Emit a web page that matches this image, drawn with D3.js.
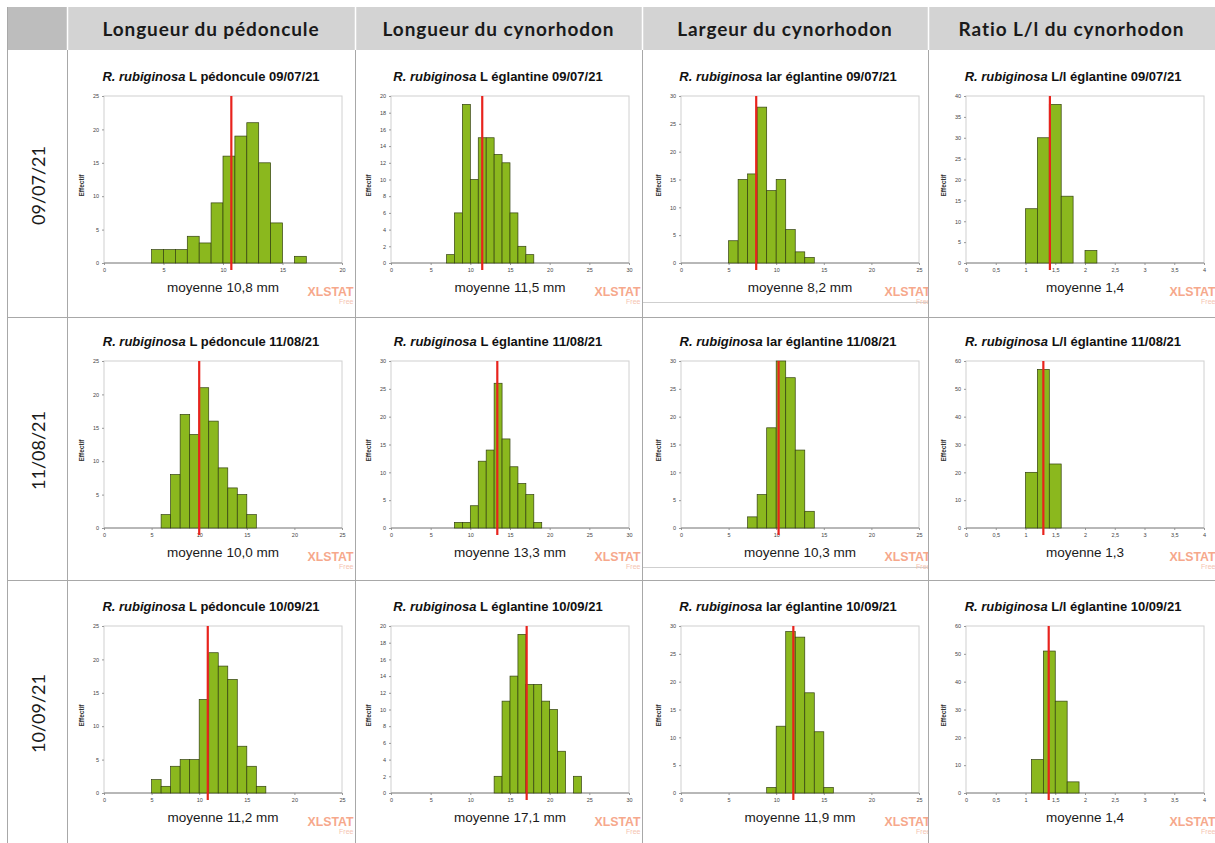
<!DOCTYPE html>
<html>
<head>
<meta charset="utf-8">
<script src="https://cdn.jsdelivr.net/npm/d3@7"></script>
<style>
  body { margin: 0; background: #fff; }
  svg { display: block; }
</style>
</head>
<body>
<svg id="chart" width="1215" height="843"></svg>
<script>
// table headers
var columns = ["Longueur du pédoncule", "Longueur du cynorhodon", "Largeur du cynorhodon", "Ratio L/l du cynorhodon"];
var dates = ["09/07/21", "11/08/21", "10/09/21"];
var measures = ["L pédoncule", "L églantine", "lar églantine", "L/l églantine"];
var units = [" mm", " mm", " mm", ""];

// histogram bins: [row][col]
var binWidth = [1, 1, 1, 0.2];
var binStart = [
  [4, 7, 5, 1.0],
  [6, 8, 7, 1.0],
  [5, 13, 9, 1.1]
];
var counts = [
  [[2, 2, 2, 4, 3, 9, 16, 19, 21, 15, 6, 0, 1],
   [1, 6, 19, 10, 15, 15, 13, 12, 6, 2, 1],
   [4, 15, 16, 28, 13, 15, 6, 2, 1],
   [13, 30, 38, 16, 0, 3]],
  [[2, 8, 17, 14, 21, 16, 9, 6, 5, 2],
   [1, 1, 4, 12, 14, 26, 16, 11, 8, 6, 1],
   [2, 6, 18, 30, 27, 14, 3],
   [20, 57, 23]],
  [[2, 1, 4, 5, 5, 14, 21, 19, 17, 7, 4, 1],
   [2, 11, 14, 19, 13, 13, 11, 10, 5, 0, 2],
   [1, 12, 29, 28, 18, 11, 1],
   [12, 51, 33, 4, 0]]
];
// red line position (as drawn) and the printed mean
var meanLine = [
  [10.7, 11.5, 7.9, 1.41],
  [10.0, 13.4, 10.25, 1.30],
  [10.9, 17.1, 11.8, 1.39]
];
var meanText = [
  ["10,8", "11,5", "8,2", "1,4"],
  ["10,0", "13,3", "10,3", "1,3"],
  ["11,2", "17,1", "11,9", "1,4"]
];
var xMax = [[20, 30, 25, 4], [25, 30, 25, 4], [25, 30, 25, 4]];
var xStep = [5, 5, 5, 0.5];
var yMax = [[25, 20, 30, 40], [25, 30, 30, 60], [25, 20, 30, 60]];
var yStep = [[5, 2, 5, 5], [5, 5, 5, 10], [5, 2, 5, 10]];

var svg = d3.select("#chart");
var fr = d3.formatLocale({decimal: ",", thousands: " ", grouping: [3], currency: ["", " €"]});
var fmt = fr.format("~g");

// table geometry
var colX = [7, 67, 355, 642, 928, 1215];
var rowY = [7, 50, 317, 580, 843];
var plotLeft = [104, 391, 681, 966];
var plotTop = [96, 361, 626];
var plotW = 238, plotH = 167;

// header
for (var i = 0; i < 5; i++) {
  svg.append("rect")
    .attr("x", colX[i]).attr("y", rowY[0])
    .attr("width", colX[i + 1] - colX[i]).attr("height", rowY[1] - rowY[0])
    .attr("fill", i == 0 ? "#bdbdbd" : "#d3d3d3");
}
svg.selectAll(".colhead")
  .data(columns)
  .enter().append("text")
  .attr("class", "colhead")
  .attr("x", function(d, i) { return (colX[i + 1] + colX[i + 2]) / 2; })
  .attr("y", 36)
  .attr("text-anchor", "middle")
  .style("font-family", "Lato, 'Open Sans', sans-serif")
  .style("font-weight", "bold")
  .style("font-size", "19px")
  .style("letter-spacing", "0.9px")
  .style("fill", "#1a1a1a")
  .text(function(d) { return d; });

// grid lines
colX.slice(0, 5).forEach(function(x, i) {
  svg.append("line")
    .attr("x1", x + 0.5).attr("x2", x + 0.5)
    .attr("y1", i == 0 ? rowY[0] : rowY[1]).attr("y2", 843)
    .attr("stroke", "#a8a8a8").attr("stroke-width", 1);
  if (i > 0) {
    svg.append("line")
      .attr("x1", x + 0.5).attr("x2", x + 0.5)
      .attr("y1", rowY[0]).attr("y2", rowY[1])
      .attr("stroke", "#fff").attr("stroke-width", 1.5);
  }
});
[rowY[2], rowY[3]].forEach(function(y) {
  svg.append("line")
    .attr("x1", colX[0]).attr("x2", 1215)
    .attr("y1", y + 0.5).attr("y2", y + 0.5)
    .attr("stroke", "#a8a8a8").attr("stroke-width", 1);
});

// row labels
dates.forEach(function(d, r) {
  var cy = (rowY[r + 1] + rowY[r + 2]) / 2 + 2;
  svg.append("text")
    .attr("transform", "translate(39," + cy + ") rotate(-90)")
    .attr("text-anchor", "middle")
    .attr("dy", "0.35em")
    .style("font-family", "Lato, 'Open Sans', sans-serif")
    .style("font-size", "18px")
    .style("fill", "#1a1a1a")
    .text(d);
});

var defs = svg.append("defs");

function drawHist(r, c) {
  var left = plotLeft[c], top = plotTop[r];
  var bottom = top + plotH;
  var x = d3.scaleLinear().domain([0, xMax[r][c]]).range([left, left + plotW]);
  var y = d3.scaleLinear().domain([0, yMax[r][c]]).range([bottom, top]);

  defs.append("clipPath").attr("id", "cell" + r + c)
    .append("rect")
    .attr("x", colX[c + 1] + 1).attr("y", rowY[r + 1] + 1)
    .attr("width", colX[c + 2] - colX[c + 1] - 1)
    .attr("height", rowY[r + 2] - rowY[r + 1] - 1);

  var g = svg.append("g").attr("clip-path", "url(#cell" + r + c + ")");

  // the pasted image in the third column shows its lower edge
  if (c == 2 && r < 2) {
    g.append("line")
      .attr("x1", colX[3]).attr("x2", colX[4])
      .attr("y1", bottom + 39.5).attr("y2", bottom + 39.5)
      .attr("stroke", "#cfcfcf").attr("stroke-width", 1);
  }

  // title
  var t = g.append("text")
    .attr("x", left + plotW / 2 - 12)
    .attr("y", top - 15)
    .attr("text-anchor", "middle")
    .style("font-family", "'Liberation Sans', Arial, sans-serif")
    .style("font-weight", "bold")
    .style("font-size", "13px")
    .style("fill", "#111");
  t.append("tspan").style("font-style", "italic").text("R. rubiginosa");
  t.append("tspan").text(" " + measures[c] + " " + dates[r]);

  // plot frame
  g.append("rect")
    .attr("x", left).attr("y", top)
    .attr("width", plotW).attr("height", plotH)
    .attr("fill", "none").attr("stroke", "#d0d0d0").attr("stroke-width", 1);

  var xAxis = d3.axisBottom(x)
    .tickValues(d3.range(0, xMax[r][c] + xStep[c] / 2, xStep[c]))
    .tickSize(2).tickPadding(3).tickFormat(fmt);
  var yAxis = d3.axisLeft(y)
    .tickValues(d3.range(0, yMax[r][c] + yStep[r][c] / 2, yStep[r][c]))
    .tickSize(2).tickPadding(3).tickFormat(fmt);

  var gx = g.append("g").attr("transform", "translate(0," + bottom + ")").call(xAxis);
  var gy = g.append("g").attr("transform", "translate(" + left + ",0)").call(yAxis);
  [gx, gy].forEach(function(a) {
    a.select(".domain").remove();
    a.selectAll(".tick line").attr("stroke", "#999");
    a.selectAll(".tick text")
      .style("font-family", "'Liberation Sans', Arial, sans-serif")
      .style("font-size", "5.5px")
      .style("fill", "#444");
  });

  // y label
  g.append("text")
    .attr("transform", "translate(" + (left - 20) + "," + (top + plotH / 2 + 6) + ") rotate(-90)")
    .attr("text-anchor", "middle")
    .style("font-family", "'Liberation Sans', Arial, sans-serif")
    .style("font-weight", "bold")
    .style("font-size", "6.5px")
    .style("fill", "#333")
    .text("Effectif");

  // baseline
  g.append("line")
    .attr("x1", left).attr("x2", left + plotW)
    .attr("y1", bottom).attr("y2", bottom)
    .attr("stroke", "#888").attr("stroke-width", 1);

  var bins = counts[r][c].map(function(v, i) {
    return {x0: binStart[r][c] + i * binWidth[c], n: v};
  });
  g.selectAll(".bar")
    .data(bins)
    .enter().append("rect")
    .attr("class", "bar")
    .attr("x", function(d) { return x(d.x0); })
    .attr("width", function(d) { return x(d.x0 + binWidth[c]) - x(d.x0); })
    .attr("y", function(d) { return y(d.n); })
    .attr("height", function(d) { return y(0) - y(d.n); })
    .attr("fill", "#8bb81e")
    .attr("stroke", "#334010")
    .attr("stroke-width", 0.7);

  // mean line
  g.append("line")
    .attr("x1", x(meanLine[r][c])).attr("x2", x(meanLine[r][c]))
    .attr("y1", top).attr("y2", bottom + 7)
    .attr("stroke", "#e8231d").attr("stroke-width", 2.2);

  g.append("text")
    .attr("x", left + plotW / 2)
    .attr("y", bottom + 29)
    .attr("text-anchor", "middle")
    .style("font-family", "'Liberation Sans', Arial, sans-serif")
    .style("font-size", "13.5px")
    .style("fill", "#1a1a1a")
    .text("moyenne " + meanText[r][c] + units[c]);

  // watermark
  g.append("text")
    .attr("x", left + plotW + 11.5)
    .attr("y", bottom + 32.5)
    .attr("text-anchor", "end")
    .style("font-family", "'Liberation Sans', Arial, sans-serif")
    .style("font-weight", "bold")
    .style("font-size", "12.3px")
    .style("fill", "#f6a88c")
    .text("XLSTAT");
  g.append("text")
    .attr("x", left + plotW + 11.5)
    .attr("y", bottom + 40.5)
    .attr("text-anchor", "end")
    .style("font-family", "'Liberation Sans', Arial, sans-serif")
    .style("font-size", "7px")
    .style("fill", "#f5c4b0")
    .text("Free");
}

for (var r = 0; r < 3; r++) {
  for (var c = 0; c < 4; c++) {
    drawHist(r, c);
  }
}
</script>
</body>
</html>
